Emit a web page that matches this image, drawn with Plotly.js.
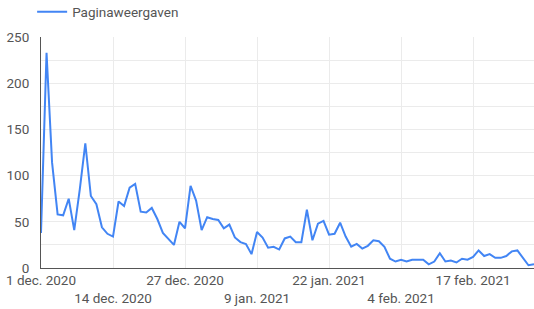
<!DOCTYPE html>
<html><head><meta charset="utf-8">
<script src="https://cdn.plot.ly/plotly-3.0.1.min.js"></script>
<style>html,body{margin:0;padding:0;background:#fff}#c{width:534px;height:309px}</style>
</head><body><div id="c"></div>
<script>
const startDate = '2020-12-01';
const seriesName = 'Paginaweergaven';
const values = [38,233,114,58,57,75,41,85,135,78,69,44,37,34,72,67,87,91,61,60,65,53,38,32,25,50,
  43,89,73,41,55,53,52,43,47,33,28,26,15,39,33,22,23,20,32,34,28,28,63,30,48,51,36,37,49,34,23,26,
  21,24,30,29,23,10,7,9,7,9,9,9,4,7,16,7,8,6,10,9,12,19,13,15,11,11,13,18,19,11,3,4];
const tickDates = ['2020-12-01','2020-12-14','2020-12-27','2021-01-09','2021-01-22','2021-02-04','2021-02-17'];
const tickLabels = ['1 dec. 2020','14 dec. 2020','27 dec. 2020','9 jan. 2021','22 jan. 2021','4 feb. 2021','17 feb. 2021'];

const dates = values.map((v,i)=>{const d=new Date(Date.UTC(2020,11,1+i));return d.toISOString().slice(0,10);});
const ticktext = tickLabels.map((t,i)=> i%2===1 ? '<br>'+t : t);

Plotly.newPlot('c',[{
  x: dates, y: values, type:'scatter', mode:'lines', name: seriesName,
  line:{color:'#4285f4', width:2}, showlegend:true
}],{
  width:534, height:309,
  margin:{l:41, r:0, t:37, b:41, autoexpand:false},
  paper_bgcolor:'#fff', plot_bgcolor:'#fff',
  font:{family:'Roboto, sans-serif', size:13.5, color:'#555'},
  showlegend:true,
  legend:{orientation:'h', x:-0.018, xanchor:'left', xref:'paper', y:1.108, yanchor:'middle', yref:'paper',
    font:{size:13.5, color:'#555'}, bgcolor:'rgba(0,0,0,0)'},
  xaxis:{type:'date', range:['2020-12-01','2021-02-28'], tickvals:tickDates, ticktext:ticktext, tickangle:0,
    showgrid:true, gridcolor:'#ebebeb', gridwidth:1, showline:true, linecolor:'#555', linewidth:1,
    ticks:'', zeroline:false, fixedrange:true},
  yaxis:{range:[0,250], dtick:50, tick0:0, showgrid:true, gridcolor:'#ebebeb',
    minor:{dtick:25, showgrid:true, gridcolor:'#ebebeb'},
    showline:true, linecolor:'#555', linewidth:1, ticks:'', zeroline:false, ticklabelstandoff:8}
},{displayModeBar:false, staticPlot:true});
</script></body></html>
